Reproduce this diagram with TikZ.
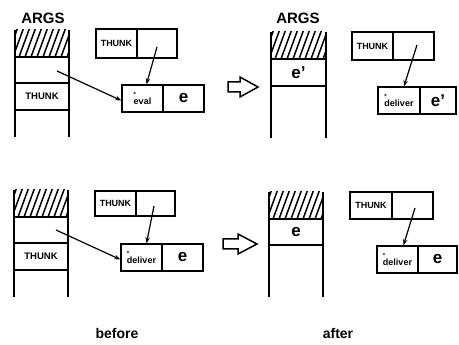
\documentclass[tikz,border=0pt]{standalone}
\usepackage{fontspec}
\setmainfont{Liberation Sans}
\usetikzlibrary{arrows.meta}
\tikzset{
  ln/.style={line width=1.5pt},
  cell/.style={draw, line width=1.5pt, inner sep=0pt, minimum width=#1},
  hatchline/.style={line width=1.5pt},
  ptr/.style={line width=1.2pt, -{Stealth[length=6pt,width=4.5pt]}},
  bigarrow/.style={line width=1.5pt, line join=miter},
  thunk/.style={font=\bfseries\fontsize{9}{9}\selectfont, text depth=0pt},
  stkthunk/.style={font=\bfseries\fontsize{9.5}{9.5}\selectfont},
  tag/.style={font=\bfseries\fontsize{9}{9}\selectfont, align=left},
  ee/.style={font=\bfseries\fontsize{17}{17}\selectfont},
  title/.style={font=\bfseries\fontsize{15}{15}\selectfont},
  caption/.style={font=\bfseries\fontsize{14}{14}\selectfont},
}
\newcommand\hatchblock[4]{%
  \begin{scope}
    \clip (#1,#2) rectangle (#3,#4);
    \foreach \i in {-20,-14,...,70} \draw[hatchline] (#1+\i,#4) -- ++(11,-30);
  \end{scope}}
\newcommand\starred[1]{\shortstack[l]{\fontsize{6}{5}\selectfont *\\[-2pt]#1}}
\begin{document}
\begin{tikzpicture}[x=1pt,y=-1pt]
\useasboundingbox (0,0) rectangle (459,345);

% ===== top left (before) =====
\node[title] (argsA) at (43,18) {ARGS};
\hatchblock{15}{30}{69}{57}
\draw[ln] (15,30) -- (15,137);
\draw[ln] (69,30) -- (69,137);
\node[cell=54pt, minimum height=26pt] (rA1) at (42,70) {};
\node[cell=54pt, minimum height=27pt, stkthunk] (rA2) at (42,96.5) {THUNK};
\node[cell=41pt, minimum height=29pt, thunk] (tA) at (116.5,43.5) {THUNK};
\node[cell=40pt, minimum height=29pt] (tAp) at (157,43.5) {};
\node[cell=41pt, minimum height=27pt, tag] (evA) at (142.5,98.5) {\starred{eval}};
\node[cell=41pt, minimum height=27pt, ee] (eA) at (183.5,98.5) {e};
\coordinate (sA) at (57,71);
\coordinate (pA) at (157,47);
\draw[ptr] (sA) -- ([yshift=-2pt]evA.west);
\draw[ptr] (pA) -- ([xshift=4pt]evA.north);

% big arrow top
\draw[bigarrow] (228,82) -- (240,82) -- (240,77) -- (258,87) -- (240,97) -- (240,92) -- (228,92) -- cycle;

% ===== top right (after) =====
\node[title] (argsB) at (298,18) {ARGS};
\hatchblock{271}{32}{326}{59}
\draw[ln] (271,32) -- (271,138);
\draw[ln] (326,32) -- (326,138);
\node[cell=55pt, minimum height=27pt, ee] (rB1) at (298.5,72.5) {e’};
\node[cell=41pt, minimum height=28pt, thunk] (tB) at (372.5,46) {THUNK};
\node[cell=41pt, minimum height=28pt] (tBp) at (413.5,46) {};
\node[cell=42pt, minimum height=27pt, tag] (dB) at (399,100.5) {\starred{deliver}};
\node[cell=36pt, minimum height=27pt, ee] (eB) at (438,100.5) {e’};
\coordinate (pB) at (417,45);
\draw[ptr] (pB) -- ([xshift=5pt]dB.north);

% ===== bottom left (before) =====
\hatchblock{14}{190}{68}{217}
\draw[ln] (14,190) -- (14,297);
\draw[ln] (68,190) -- (68,297);
\node[cell=54pt, minimum height=26pt] (rC1) at (41,230) {};
\node[cell=54pt, minimum height=27pt, stkthunk] (rC2) at (41,256.5) {THUNK};
\node[cell=41pt, minimum height=25pt, thunk] (tC) at (115.5,203.5) {THUNK};
\node[cell=39pt, minimum height=25pt] (tCp) at (155.5,203.5) {};
\node[cell=41pt, minimum height=27pt, tag] (dC) at (141.5,257.5) {\starred{deliver}};
\node[cell=41pt, minimum height=27pt, ee] (eC) at (182.5,257.5) {e};
\coordinate (sC) at (56,230);
\coordinate (pC) at (154,206);
\draw[ptr] (sC) -- ([yshift=-2pt]dC.west);
\draw[ptr] (pC) -- ([xshift=5pt]dC.north);

% big arrow bottom
\draw[bigarrow] (223,239) -- (238,239) -- (238,234) -- (257,244) -- (238,254) -- (238,249) -- (223,249) -- cycle;

% ===== bottom right (after) =====
\hatchblock{269}{192}{323}{219}
\draw[ln] (269,192) -- (269,297);
\draw[ln] (323,192) -- (323,297);
\node[cell=54pt, minimum height=26pt, ee] (rD1) at (296,232) {e};
\node[cell=42pt, minimum height=27pt, thunk] (tD) at (371,205.5) {THUNK};
\node[cell=41pt, minimum height=27pt] (tDp) at (412.5,205.5) {};
\node[cell=41pt, minimum height=27pt, tag] (dD) at (397.5,259.5) {\starred{deliver}};
\node[cell=39pt, minimum height=27pt, ee] (eD) at (437.5,259.5) {e};
\coordinate (pD) at (415,208);
\draw[ptr] (pD) -- ([xshift=6pt]dD.north);

% captions
\node[caption] (capA) at (117,333) {before};
\node[caption] (capB) at (338,333) {after};
\end{tikzpicture}
\end{document}
